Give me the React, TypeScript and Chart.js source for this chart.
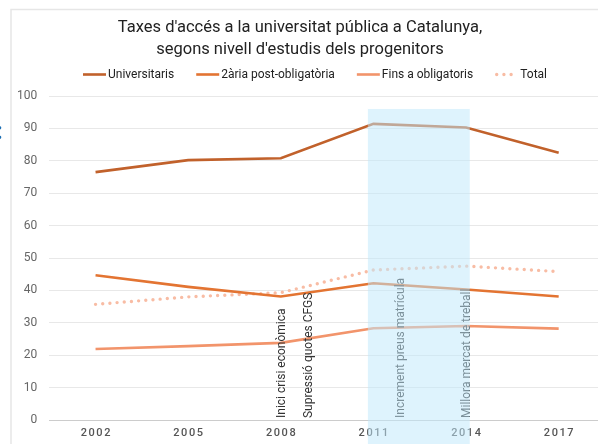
import React, { useEffect, useRef } from "react";
import { Chart, registerables } from "chart.js";

Chart.register(...registerables);

const titleLines = [
  "Taxes d'accés a la universitat pública a Catalunya,",
  "segons nivell d'estudis dels progenitors",
];
const years = ["2002", "2005", "2008", "2011", "2014", "2017"];
const universitaris = [76.5, 80.2, 80.8, 91.4, 90.3, 82.5];
const secundaria = [44.7, 41.1, 38.1, 42.2, 40.3, 38.1];
const obligatoris = [21.9, 22.8, 23.8, 28.3, 29.0, 28.2];
const total = [35.7, 38.0, 39.3, 46.3, 47.5, 45.8];
const seriesNames = ["Universitaris", "2ària post-obligatòria", "Fins a obligatoris", "Total"];
const seriesColors = ["#c1612b", "#e37432", "#f2946b", "#f8bca4"];

// vertical event notes: label and position in category-index units
const noteLabels = ["Inici crisi econòmica", "Supressió quotes CFGS", "Increment preus matrícula", "Millora mercat de treball"];
const notePositions = [2.0, 2.29, 3.28, 3.99];
// shaded period (category-index units) and its top value
const shadeFrom = 2.94;
const shadeTo = 4.04;
const shadeTop = 96;

const W = 612;
const H = 444;

function pixelAt(xs: any, pos: number) {
  const i = Math.floor(pos);
  const f = pos - i;
  const a = xs.getPixelForValue(i);
  const b = xs.getPixelForValue(i + 1);
  return a + (b - a) * f;
}

const decorPlugin = {
  id: "decor",
  beforeDraw(chart: any) {
    const ctx = chart.ctx;
    ctx.save();
    ctx.fillStyle = "#ffffff";
    ctx.fillRect(0, 0, W, H);
    ctx.strokeStyle = "#e6e6e6";
    ctx.lineWidth = 1.5;
    ctx.beginPath();
    ctx.moveTo(11, H);
    ctx.lineTo(11, 9.5);
    ctx.lineTo(W, 9.5);
    ctx.stroke();
    ctx.fillStyle = "#1a6db3";
    ctx.font = "bold 24px Roboto";
    ctx.textBaseline = "alphabetic";
    ctx.fillText(":", -4, 139);
    ctx.restore();
  },
  afterDatasetsDraw(chart: any) {
    const ctx = chart.ctx;
    const xs = chart.scales.x;
    const ys = chart.scales.y;
    const area = chart.chartArea;
    ctx.save();
    // x tick labels with letter spacing
    ctx.font = "500 11px Roboto";
    ctx.fillStyle = "#555555";
    ctx.textBaseline = "middle";
    ctx.textAlign = "left";
    (ctx as any).letterSpacing = "1.6px";
    years.forEach((y, i) => {
      const w = ctx.measureText(y).width - 1.6;
      ctx.fillText(y, xs.getPixelForValue(i) - w / 2, area.bottom + 13.5);
    });
    (ctx as any).letterSpacing = "0px";
    // vertical notes
    ctx.font = "12px Roboto";
    ctx.fillStyle = "#333333";
    ctx.textAlign = "left";
    ctx.textBaseline = "alphabetic";
    noteLabels.forEach((t, k) => {
      const x = pixelAt(xs, notePositions[k]) + 4.5;
      ctx.save();
      ctx.translate(x, area.bottom - 2);
      ctx.rotate(-Math.PI / 2);
      ctx.fillText(t, 0, 0);
      ctx.restore();
    });
    // shaded period overlay
    const x0 = pixelAt(xs, shadeFrom);
    const x1 = pixelAt(xs, shadeTo);
    const yTop = ys.getPixelForValue(shadeTop);
    ctx.fillStyle = "rgba(192, 232, 251, 0.52)";
    ctx.fillRect(x0, yTop, x1 - x0, H - yTop);
    ctx.restore();
  },
  afterDraw(chart: any) {
    const ctx = chart.ctx;
    ctx.save();
    // title
    ctx.fillStyle = "#222222";
    ctx.font = "16.5px Roboto";
    ctx.textAlign = "center";
    ctx.textBaseline = "alphabetic";
    ctx.fillText(titleLines[0], 300, 32);
    ctx.fillText(titleLines[1], 300, 54);
    // legend
    ctx.font = "12px Roboto";
    ctx.textAlign = "left";
    ctx.textBaseline = "middle";
    const sample = 23;
    const gapText = 2;
    const gapItem = 22;
    const widths = seriesNames.map((n) => sample + gapText + ctx.measureText(n).width);
    const totalW = widths.reduce((a, b) => a + b, 0) + gapItem * (widths.length - 1);
    let x = 315 - totalW / 2;
    const ly = 74.5;
    chart.data.datasets.forEach((ds: any, i: number) => {
      ctx.save();
      ctx.strokeStyle = ds.borderColor;
      ctx.lineWidth = ds.borderWidth;
      ctx.lineCap = ds.borderCapStyle || "butt";
      ctx.setLineDash(ds.borderDash || []);
      ctx.beginPath();
      const dashed = ds.borderDash && ds.borderDash.length;
      ctx.moveTo(x + (dashed ? 1.5 : 0), ly);
      ctx.lineTo(x + sample, ly);
      ctx.stroke();
      ctx.restore();
      ctx.fillStyle = "#222222";
      ctx.fillText(seriesNames[i], x + sample + gapText, ly + 0.5);
      x += widths[i] + gapItem;
    });
    ctx.restore();
  },
};

export default function App() {
  const ref = useRef<HTMLCanvasElement | null>(null);
  useEffect(() => {
    if (!ref.current) return;
    const mk = (i: number, data: number[], extra: any = {}) => ({
      label: seriesNames[i],
      data,
      borderColor: seriesColors[i],
      backgroundColor: seriesColors[i],
      borderWidth: 2.6,
      pointRadius: 0,
      pointHoverRadius: 0,
      tension: 0,
      fill: false,
      ...extra,
    });
    const chart = new Chart(ref.current, {
      type: "line",
      data: {
        labels: years,
        datasets: [
          mk(0, universitaris),
          mk(1, secundaria),
          mk(2, obligatoris),
          mk(3, total, { borderDash: [0, 7.2], borderCapStyle: "round", borderWidth: 3.4 }),
        ],
      },
      options: {
        responsive: false,
        animation: false,
        events: [],
        layout: { padding: { left: 5, right: 7, top: 96, bottom: 24 } },
        plugins: {
          legend: { display: false },
          title: { display: false },
          tooltip: { enabled: false },
        },
        scales: {
          x: {
            offset: true,
            grid: { display: false, drawTicks: false },
            border: { display: false },
            ticks: { display: false },
          },
          y: {
            min: 0,
            max: 100,
            ticks: {
              stepSize: 10,
              padding: 12,
              color: "#666666",
              font: { family: "Roboto", size: 12 },
            },
            grid: {
              drawTicks: false,
              color: (c: any) => (c.tick && c.tick.value === 0 ? "#cccccc" : "#e8e8e8"),
              lineWidth: 1,
            },
            border: { display: false },
          },
        },
      },
      plugins: [decorPlugin],
    });
    return () => chart.destroy();
  }, []);
  return (
    <div style={{ position: "fixed", left: 0, top: 0, width: 598, height: 444, overflow: "hidden", background: "#fff" }}>
      <canvas ref={ref} width={W} height={H} style={{ width: W, height: H, display: "block" }} />
    </div>
  );
}
